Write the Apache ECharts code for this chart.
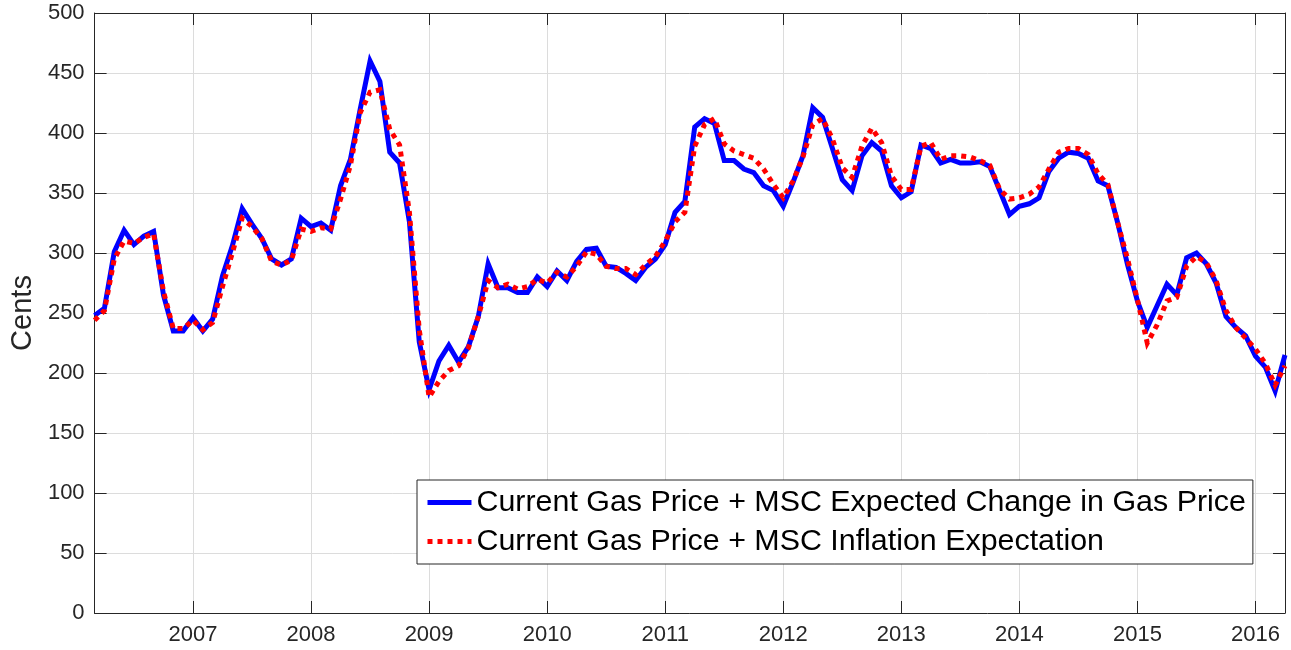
<!DOCTYPE html>
<html>
<head>
<meta charset="utf-8">
<script src="https://cdn.jsdelivr.net/npm/echarts@6/dist/echarts.min.js"></script>
<style>
html,body{margin:0;padding:0;background:#fff;}
#chart{width:1291px;height:650px;}
</style>
</head>
<body>
<div id="chart"></div>
<script>
// Monthly observations, March 2006 through April 2016
var startYear = 2006;
var startMonth = 3; // March
var yearTicks = [2007, 2008, 2009, 2010, 2011, 2012, 2013, 2014, 2015, 2016];
var seriesNames = [
  'Current Gas Price + MSC Expected Change in Gas Price',
  'Current Gas Price + MSC Inflation Expectation'
];
var expectedChange = [
  248,254,301,319,307,314,318,265,235,235,
  246,235,245,281,306,337,324,312,295,290,
  295,329,322,325,319,356,378,420,460,443,
  384,375,326,226,186,210,223,209,222,247,
  291,271,271,267,267,280,272,285,277,293,
  303,304,289,288,283,277,288,295,307,334,
  343,405,412,408,377,377,370,367,356,352,
  339,359,381,421,413,387,361,352,381,392,
  385,356,346,351,390,387,375,378,375,375,
  376,372,352,332,339,341,346,368,379,384,
  383,379,360,356,325,290,260,238,256,274,
  265,296,300,291,275,247,238,231,214,205,
  185,215
];
var inflationExp = [
  244,252,295,310,308,313,316,268,237,237,
  244,236,242,272,300,329,322,312,293,290,
  294,320,318,321,320,345,373,417,434,436,
  403,390,334,236,180,193,202,206,221,247,
  277,271,274,270,272,278,275,284,280,289,
  301,299,289,287,287,282,290,297,310,326,
  334,389,407,412,391,385,382,379,370,357,
  346,360,380,407,412,395,371,363,389,404,
  392,364,353,353,389,392,378,381,381,380,
  377,373,353,345,346,349,355,370,384,387,
  387,382,366,357,325,295,261,225,240,260,
  263,289,297,292,277,252,238,229,220,208,
  190,206
];

function toPairs(vals) {
  return vals.map(function (v, i) {
    return [startYear + (startMonth - 1 + i) / 12, v];
  });
}
var xMin = startYear + (startMonth - 1) / 12;
var xMax = startYear + (startMonth - 1 + expectedChange.length - 1) / 12;

var FONT = 'Liberation Sans, Arial, Helvetica, sans-serif';
var AX = '#262626';
var GRID = '#dcdcdc';

var chart = echarts.init(document.getElementById('chart'), null, {renderer: 'canvas'});
chart.setOption({
  animation: false,
  backgroundColor: '#ffffff',
  grid: {left: 92, right: 6, top: 13, bottom: 37, containLabel: false},
  xAxis: [{
    type: 'value', min: xMin, max: xMax, position: 'bottom',
    axisLine: {show: true, onZero: false, lineStyle: {color: AX, width: 1}},
    axisTick: {show: true, inside: true, length: 12, customValues: yearTicks, lineStyle: {color: AX}},
    axisLabel: {show: true, customValues: yearTicks, margin: 11, color: AX, fontSize: 22, fontFamily: FONT,
      formatter: function (v) { return String(Math.round(v)); }},
    splitLine: {show: true, lineStyle: {color: GRID, width: 1}}
  }, {
    type: 'value', min: xMin, max: xMax, position: 'top',
    axisLine: {show: true, onZero: false, lineStyle: {color: AX, width: 1}},
    axisTick: {show: true, inside: true, length: 12, customValues: yearTicks, lineStyle: {color: AX}},
    axisLabel: {show: false},
    splitLine: {show: false}
  }],
  yAxis: [{
    type: 'value', min: 0, max: 500, interval: 50, position: 'left',
    name: 'Cents', nameLocation: 'middle', nameGap: 53,
    nameTextStyle: {color: AX, fontSize: 29, fontFamily: FONT},
    axisLine: {show: true, onZero: false, lineStyle: {color: AX, width: 1}},
    axisTick: {show: true, inside: true, length: 12, lineStyle: {color: AX}},
    axisLabel: {show: true, margin: 10, color: AX, fontSize: 22, fontFamily: FONT},
    splitLine: {show: true, lineStyle: {color: GRID, width: 1}}
  }, {
    type: 'value', min: 0, max: 500, interval: 50, position: 'right',
    axisLine: {show: true, onZero: false, lineStyle: {color: AX, width: 1}},
    axisTick: {show: true, inside: true, length: 12, lineStyle: {color: AX}},
    axisLabel: {show: false},
    splitLine: {show: false}
  }],
  legend: {
    show: true,
    orient: 'vertical',
    left: 417, top: 480,
    padding: [5, 7, 5, 8],
    itemGap: 4,
    itemWidth: 44, itemHeight: 14,
    backgroundColor: '#ffffff',
    borderColor: AX, borderWidth: 1, borderRadius: 0,
    textStyle: {color: '#000000', fontSize: 30.4, fontFamily: FONT, lineHeight: 30, padding: [5, 0, 0, 0]},
    data: [
      {name: seriesNames[0], itemStyle: {opacity: 0}, lineStyle: {width: 5, color: '#0000ff', type: 'solid', cap: 'butt'}},
      {name: seriesNames[1], itemStyle: {opacity: 0}, lineStyle: {width: 5, color: '#ff0000', type: [5, 5], cap: 'butt'}}
    ]
  },
  series: [{
    name: seriesNames[0],
    type: 'line',
    xAxisIndex: 0, yAxisIndex: 0,
    data: toPairs(expectedChange),
    symbol: 'none', showSymbol: false,
    lineStyle: {color: '#0000ff', width: 5, join: 'miter'},
    itemStyle: {color: '#0000ff'},
    z: 2
  }, {
    name: seriesNames[1],
    type: 'line',
    xAxisIndex: 0, yAxisIndex: 0,
    data: toPairs(inflationExp),
    symbol: 'none', showSymbol: false,
    lineStyle: {color: '#ff0000', width: 5, type: [5, 5], cap: 'butt', join: 'miter'},
    itemStyle: {color: '#ff0000'},
    z: 3
  }]
});
</script>
</body>
</html>
